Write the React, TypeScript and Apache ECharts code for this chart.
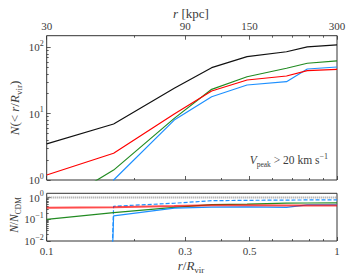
import React, { useEffect, useRef } from 'react';
import * as echarts from 'echarts';

// ---- data ----
const rRvir = [0.1, 0.17, 0.275, 0.37, 0.49, 0.67, 0.79, 1.0];
const nCDM = [3.5, 7.0, 24.2, 49.4, 72.4, 86, 102, 109];
const nRed = [1.19, 2.53, 9.9, 22, 32.2, 37, 44.5, 46.7];
const nGreen = [0.35, 1.41, 8.5, 23.3, 36.1, 48.4, 57.6, 62.4];
const nBlue = [0, 1.0, 8.0, 18, 27.1, 30.4, 47.2, 50.6];
const ratioBlueDashed = [0, 0.4, 0.55, 0.72, 0.75, 0.77, 0.78, 0.78];

const xMajorTicks = [0.1, 0.3, 0.5, 1];
const xMinorTicks = [0.2, 0.4, 0.6, 0.7, 0.8, 0.9];
const xTickLabels = ['0.1', '0.3', '0.5', '1'];
const kpcTickLabels = ['30', '90', '150', '300'];
const yTopMajor = [1, 10, 100];
const yTopMinor = [2, 3, 4, 5, 6, 7, 8, 9, 20, 30, 40, 50, 60, 70, 80, 90];
const yTopExps = ['0', '1', '2'];
const yBotMajor = [0.01, 0.1, 1];
const yBotMinor = [0.02, 0.03, 0.04, 0.05, 0.06, 0.07, 0.08, 0.09, 0.2, 0.3, 0.4, 0.5, 0.6, 0.7, 0.8, 0.9];
const yBotExps = ['\u22122', '\u22121', '0'];

// matplotlib clips non-positive values on log axes to a tiny number
const LOG_FLOOR = 1e-100;

const FONT = 'Liberation Serif';
const TXT = '#3c3c3c';
const FRAME = '#333';
const BLACK = '#111111';
const RED = '#ff0000';
const GREEN = '#228b22';
const BLUE = '#1e90ff';

const pick = (ticks: number[], labels: string[], v: number) => {
  let best = 0;
  for (let i = 1; i < ticks.length; i++) {
    if (Math.abs(Math.log(ticks[i]) - Math.log(v)) < Math.abs(Math.log(ticks[best]) - Math.log(v))) best = i;
  }
  return labels[best];
};

const richBase = {
  b: { fontFamily: FONT, fontSize: 11, fontWeight: 'normal', color: TXT, lineHeight: 16 },
  s: { fontFamily: FONT, fontSize: 8, fontWeight: 'normal', color: TXT, lineHeight: 8, verticalAlign: 'top' },
};

const mk = (size: number, extra: any = {}) => ({
  fontFamily: FONT, fontSize: size, fontWeight: 'normal', fill: TXT, color: TXT, ...extra,
});

const titleRich = {
  t: mk(13, { lineHeight: 18 }),
  i: mk(13, { fontStyle: 'italic', lineHeight: 18 }),
  sub: mk(9, { lineHeight: 11, verticalAlign: 'bottom' }),
  sup: mk(8, { lineHeight: 8, verticalAlign: 'top' }),
  ts: mk(11.5, { lineHeight: 16 }),
  is: mk(11.5, { fontStyle: 'italic', lineHeight: 16 }),
  subs: mk(7.5, { lineHeight: 9, verticalAlign: 'bottom' }),
};

const pts = (ys: number[]) => rRvir.map((x, i) => [x, Math.max(ys[i], LOG_FLOOR)]);
const ratio = (ys: number[]) => rRvir.map((x, i) => [x, Math.max(ys[i] / nCDM[i], LOG_FLOOR)]);

const tickStyle = { color: FRAME, width: 0.8 };

const xAxisBase = (gridIndex: number, position: 'top' | 'bottom') => ({
  type: 'log',
  logBase: 10,
  min: 0.1,
  max: 1,
  gridIndex,
  position,
  axisLine: { show: false },
  splitLine: { show: false },
  minorTick: { show: false },
});

const option: any = {
  animation: false,
  backgroundColor: '#ffffff',
  grid: [
    { left: 46.7, top: 35.7, right: 13, height: 144.3, show: true, borderColor: FRAME, borderWidth: 1, containLabel: false, outerBoundsMode: 'none' },
    { left: 46.7, top: 193.3, right: 13, height: 47.7, show: true, borderColor: FRAME, borderWidth: 1, containLabel: false, outerBoundsMode: 'none' },
  ],
  xAxis: [
    {
      ...xAxisBase(0, 'bottom'),
      axisTick: { show: true, inside: true, length: 4, customValues: xMajorTicks, lineStyle: tickStyle },
      axisLabel: { show: false },
    },
    {
      ...xAxisBase(0, 'bottom'),
      axisTick: { show: true, inside: true, length: 2, customValues: xMinorTicks, lineStyle: tickStyle },
      axisLabel: { show: false },
    },
    {
      ...xAxisBase(0, 'top'),
      axisTick: { show: true, inside: true, length: 4, customValues: xMajorTicks, lineStyle: tickStyle },
      axisLabel: {
        show: true,
        customValues: xMajorTicks,
        margin: 4,
        fontFamily: FONT,
        fontSize: 11,
        color: TXT,
        formatter: (v: number) => pick(xMajorTicks, kpcTickLabels, v),
      },
    },
    {
      ...xAxisBase(0, 'top'),
      axisTick: { show: true, inside: true, length: 2, customValues: xMinorTicks, lineStyle: tickStyle },
      axisLabel: { show: false },
    },
    {
      ...xAxisBase(1, 'bottom'),
      axisTick: { show: true, inside: true, length: 4, customValues: xMajorTicks, lineStyle: tickStyle },
      axisLabel: {
        show: true,
        customValues: xMajorTicks,
        margin: 4,
        fontFamily: FONT,
        fontSize: 11,
        color: TXT,
        formatter: (v: number) => pick(xMajorTicks, xTickLabels, v),
      },
    },
    {
      ...xAxisBase(1, 'bottom'),
      axisTick: { show: true, inside: true, length: 2, customValues: xMinorTicks, lineStyle: tickStyle },
      axisLabel: { show: false },
    },
  ],
  yAxis: [
    {
      type: 'log', logBase: 10, min: 1, max: 150, gridIndex: 0, position: 'left',
      axisLine: { show: false }, splitLine: { show: false },
      axisTick: { show: true, inside: true, length: 4, customValues: yTopMajor, lineStyle: tickStyle },
      axisLabel: {
        show: true, customValues: yTopMajor, margin: 3,
        formatter: (v: number) => `{b|10}{s|${pick(yTopMajor, yTopExps, v)}}`,
        rich: richBase,
      },
    },
    {
      type: 'log', logBase: 10, min: 1, max: 150, gridIndex: 0, position: 'left',
      axisLine: { show: false }, splitLine: { show: false },
      axisTick: { show: true, inside: true, length: 2, customValues: yTopMinor, lineStyle: tickStyle },
      axisLabel: { show: false },
    },
    {
      type: 'log', logBase: 10, min: 0.01, max: 1.58, gridIndex: 1, position: 'left',
      axisLine: { show: false }, splitLine: { show: false },
      axisTick: { show: true, inside: true, length: 4, customValues: yBotMajor, lineStyle: tickStyle },
      axisLabel: {
        show: true, customValues: yBotMajor, margin: 3,
        formatter: (v: number) => `{b|10}{s|${pick(yBotMajor, yBotExps, v)}}`,
        rich: richBase,
      },
    },
    {
      type: 'log', logBase: 10, min: 0.01, max: 1.58, gridIndex: 1, position: 'left',
      axisLine: { show: false }, splitLine: { show: false },
      axisTick: { show: true, inside: true, length: 2, customValues: yBotMinor, lineStyle: tickStyle },
      axisLabel: { show: false },
    },
  ],
  series: [
    { name: 'CDM', type: 'line', xAxisIndex: 0, yAxisIndex: 0, data: pts(nCDM), showSymbol: false, symbol: 'none', clip: true, lineStyle: { color: BLACK, width: 1.2 } },
    { name: 'green', type: 'line', xAxisIndex: 0, yAxisIndex: 0, data: pts(nGreen), showSymbol: false, symbol: 'none', clip: true, lineStyle: { color: GREEN, width: 1.2 } },
    { name: 'blue', type: 'line', xAxisIndex: 0, yAxisIndex: 0, data: pts(nBlue), showSymbol: false, symbol: 'none', clip: true, lineStyle: { color: BLUE, width: 1.2 } },
    { name: 'red', type: 'line', xAxisIndex: 0, yAxisIndex: 0, data: pts(nRed), showSymbol: false, symbol: 'none', clip: true, lineStyle: { color: RED, width: 1.2 } },

    { name: 'CDM ratio', type: 'line', xAxisIndex: 4, yAxisIndex: 2, data: ratio(nCDM), showSymbol: false, symbol: 'none', clip: true, lineStyle: { color: '#999999', width: 2, type: [1, 1] } },
    { name: 'blue dashed ratio', type: 'line', xAxisIndex: 4, yAxisIndex: 2, data: rRvir.map((x, i) => [x, Math.max(ratioBlueDashed[i], LOG_FLOOR)]), showSymbol: false, symbol: 'none', clip: true, lineStyle: { color: BLUE, width: 1.2, type: [4, 2] } },
    { name: 'green ratio', type: 'line', xAxisIndex: 4, yAxisIndex: 2, data: ratio(nGreen), showSymbol: false, symbol: 'none', clip: true, lineStyle: { color: GREEN, width: 1.2 } },
    { name: 'blue ratio', type: 'line', xAxisIndex: 4, yAxisIndex: 2, data: ratio(nBlue), showSymbol: false, symbol: 'none', clip: true, lineStyle: { color: BLUE, width: 1.2 } },
    { name: 'red ratio', type: 'line', xAxisIndex: 4, yAxisIndex: 2, data: ratio(nRed), showSymbol: false, symbol: 'none', clip: true, lineStyle: { color: RED, width: 2, opacity: 0.7 } },
  ],
  graphic: [
    {
      type: 'text', x: 191, y: 13,
      style: { text: '{i|r} {t|[kpc]}', rich: titleRich, align: 'center', verticalAlign: 'middle', fill: TXT },
    },
    {
      type: 'text', x: 191, y: 265,
      style: { text: '{i|r}{t|/}{i|R}{sub|vir}', rich: titleRich, align: 'center', verticalAlign: 'middle', fill: TXT },
    },
    {
      type: 'text', x: 14, y: 108, rotation: Math.PI / 2,
      style: { text: '{i|N}{t|(< }{i|r}{t|/}{i|R}{sub|vir}{t|)}', rich: titleRich, align: 'center', verticalAlign: 'middle', fill: TXT },
    },
    {
      type: 'text', x: 14, y: 215, rotation: Math.PI / 2,
      style: { text: '{is|N}{ts|/}{is|N}{subs|CDM}', rich: titleRich, align: 'center', verticalAlign: 'middle', fill: TXT },
    },
    {
      type: 'text', x: 328, y: 160,
      style: { text: '{is|V}{subs|peak}{ts| > 20 km s}{sup|\u22121}', rich: titleRich, align: 'right', verticalAlign: 'middle', fill: TXT },
    },
  ],
};

export default function App() {
  const ref = useRef<HTMLDivElement>(null);
  useEffect(() => {
    const chart = echarts.init(ref.current as HTMLDivElement, null, { renderer: 'svg' });
    chart.setOption(option);
    return () => chart.dispose();
  }, []);
  return (
    <div
      ref={ref}
      style={{ position: 'fixed', left: 0, top: 0, width: 350, height: 280, background: '#ffffff' }}
    />
  );
}
